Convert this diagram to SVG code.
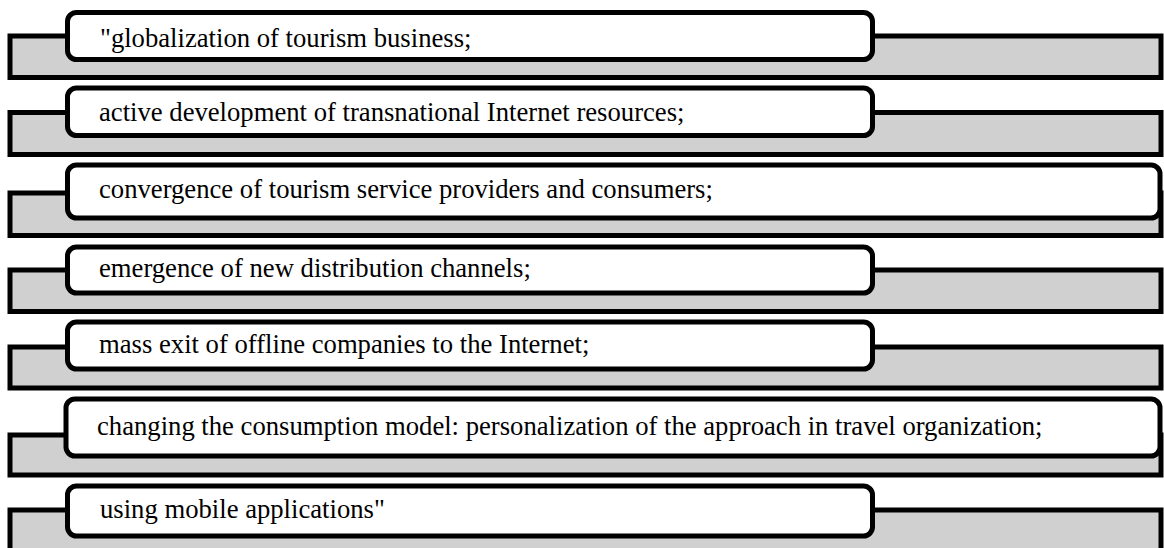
<svg xmlns="http://www.w3.org/2000/svg" width="1164" height="548" viewBox="0 0 1164 548">
  <style>
    .bar { fill: #d0d0d0; stroke: #000; stroke-width: 5; }
    .box { fill: #fff; stroke: #000; stroke-width: 5; }
    .label { font-family: "Liberation Serif", "Times New Roman", serif; font-size: 26.67px; fill: #000; }
  </style>
  <rect width="1164" height="548" fill="#fff"/>

  <g id="item-globalization">
    <rect class="bar" x="10" y="36" width="1151" height="41.5"/>
    <rect class="box" x="67.5" y="12.5" width="805" height="47" rx="9"/>
    <text class="label" x="100" y="46.5">"globalization of tourism business;</text>
  </g>

  <g id="item-transnational">
    <rect class="bar" x="10" y="112.5" width="1151" height="42"/>
    <rect class="box" x="67.5" y="88" width="805" height="47.5" rx="9"/>
    <text class="label" x="99" y="120.5">active development of transnational Internet resources;</text>
  </g>

  <g id="item-convergence">
    <rect class="bar" x="10" y="193" width="1151" height="42.5"/>
    <rect class="box" x="67.5" y="165" width="1092.5" height="53" rx="9"/>
    <text class="label" x="99" y="198">convergence of tourism service providers and consumers;</text>
  </g>

  <g id="item-distribution">
    <rect class="bar" x="10" y="270" width="1151" height="41.5"/>
    <rect class="box" x="67.5" y="247" width="805" height="46" rx="9"/>
    <text class="label" x="99" y="277">emergence of new distribution channels;</text>
  </g>

  <g id="item-offline">
    <rect class="bar" x="10" y="347" width="1151" height="41"/>
    <rect class="box" x="67.5" y="322" width="805" height="47" rx="9"/>
    <text class="label" x="99" y="353">mass exit of offline companies to the Internet;</text>
  </g>

  <g id="item-consumption">
    <rect class="bar" x="10" y="435" width="1151" height="40"/>
    <rect class="box" x="66" y="399" width="1094" height="57" rx="9"/>
    <text class="label" x="97" y="435">changing the consumption model: personalization of the approach in travel organization;</text>
  </g>

  <g id="item-mobile">
    <rect class="bar" x="10" y="510" width="1151" height="45"/>
    <rect class="box" x="67.5" y="486" width="805" height="50" rx="9"/>
    <text class="label" x="100" y="518">using mobile applications"</text>
  </g>
</svg>
